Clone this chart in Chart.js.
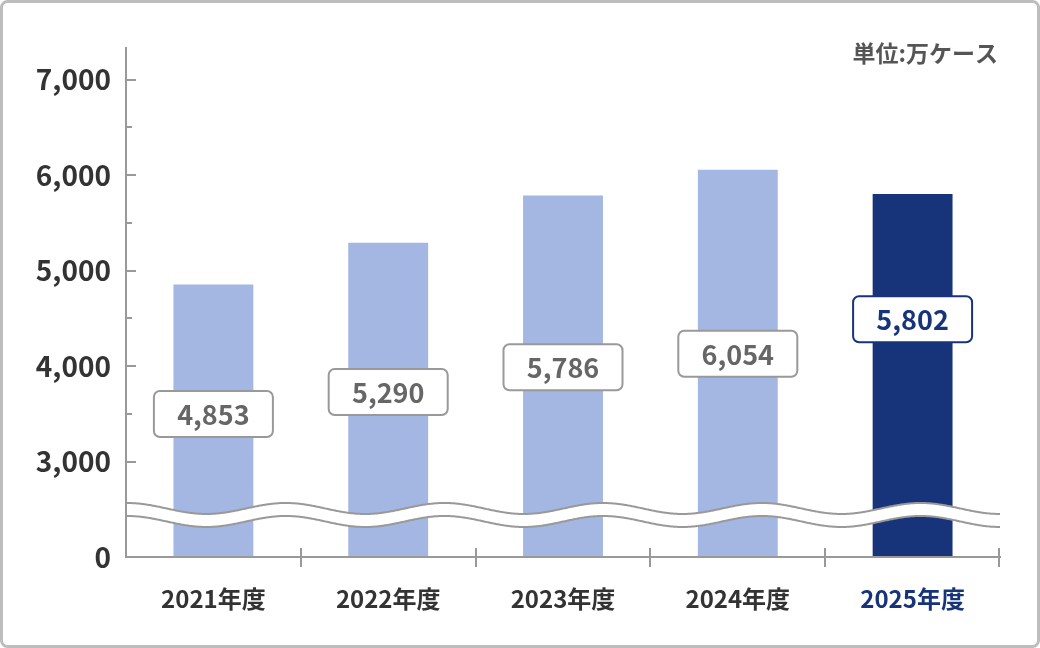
<!DOCTYPE html>
<html lang="ja">
<head>
<meta charset="utf-8">
<title>年度別 販売数量</title>
<script src="https://cdn.jsdelivr.net/npm/chart.js@4.4.1/dist/chart.umd.min.js"></script>
<style>
  html, body { margin: 0; padding: 0; background: #fff; }
  #wrap { width: 1040px; height: 648px; }
</style>
</head>
<body>
<div id="wrap"><canvas id="volumeChart" width="1040" height="648"></canvas></div>
<script>
// data
const categories = ['2021年度', '2022年度', '2023年度', '2024年度', '2025年度'];
const values = [4853, 5290, 5786, 6054, 5802];
const tickValues = [2000, 3000, 4000, 5000, 6000, 7000];
const tickLabels = ['0', '3,000', '4,000', '5,000', '6,000', '7,000'];
const minorTickValues = [3500, 4500, 5500, 6500];
const highlightIndex = 4;
const unitText = '単位:万ケース';

const FONT = '"Noto Sans CJK JP", "Noto Sans", sans-serif';
const LIGHT = '#a3b7e2';
const NAVY = '#17347a';
const AXIS = '#999999';

const breakValue = 2440; // where the wavy axis break sits

const decorPlugin = {
    id: 'decor',
    beforeDraw(chart) {
        const ctx = chart.ctx;
        ctx.save();
        ctx.fillStyle = '#fff';
        ctx.fillRect(0, 0, chart.width, chart.height);
        ctx.strokeStyle = '#bdbdbd';
        ctx.lineWidth = 3;
        ctx.beginPath();
        ctx.roundRect(1.5, 1.5, chart.width - 3, chart.height - 3, 6);
        ctx.stroke();
        ctx.restore();
    },
    afterDatasetsDraw(chart) {
        const ctx = chart.ctx;
        const area = chart.chartArea;
        const y = chart.scales.y;

        // wavy break across the bars
        const c = y.getPixelForValue(breakValue);
        const gap = 6.5, amp = 5.5;
        const x0 = area.left + 1, x1 = area.right;
        const period = (x1 - x0) / 5.5;
        const wave = (px, off) => c + off - amp * Math.cos(2 * Math.PI * (px - x0) / period);
        ctx.save();
        ctx.beginPath();
        for (let px = x0; px <= x1; px++) ctx.lineTo(px, wave(px, -gap));
        for (let px = x1; px >= x0; px--) ctx.lineTo(px, wave(px, gap));
        ctx.closePath();
        ctx.fillStyle = '#fff';
        ctx.fill();
        ctx.strokeStyle = AXIS;
        ctx.lineWidth = 2;
        [-gap, gap].forEach(off => {
            ctx.beginPath();
            for (let px = x0; px <= x1; px++) ctx.lineTo(px, wave(px, off));
            ctx.stroke();
        });

        // value boxes, placed part way up the visible bar
        const meta = chart.getDatasetMeta(0);
        meta.data.forEach((bar, i) => {
            const hi = i === highlightIndex;
            const ratio = hi ? 0.655 : 0.525;
            const cy = area.bottom + (bar.y - area.bottom) * ratio;
            const w = 119, h = 46;
            ctx.beginPath();
            ctx.roundRect(bar.x - w / 2, cy - h / 2, w, h, 6);
            ctx.fillStyle = '#fff';
            ctx.fill();
            ctx.lineWidth = 2;
            ctx.strokeStyle = hi ? NAVY : AXIS;
            ctx.stroke();
            ctx.fillStyle = hi ? NAVY : '#666';
            ctx.font = 'bold 27px ' + FONT;
            ctx.textAlign = 'center';
            ctx.textBaseline = 'middle';
            ctx.fillText(values[i].toLocaleString('en-US'), bar.x, cy + 1);
        });
        ctx.restore();
    },
    afterDraw(chart) {
        const ctx = chart.ctx;
        const area = chart.chartArea;
        const y = chart.scales.y;
        const x = chart.scales.x;
        ctx.save();
        ctx.strokeStyle = AXIS;
        ctx.lineWidth = 2;
        // y ticks point inwards
        tickValues.slice(1).forEach(v => {
            const py = Math.round(y.getPixelForValue(v));
            ctx.beginPath();
            ctx.moveTo(area.left, py);
            ctx.lineTo(area.left + 10, py);
            ctx.stroke();
        });
        minorTickValues.forEach(v => {
            const py = Math.round(y.getPixelForValue(v));
            ctx.beginPath();
            ctx.moveTo(area.left, py);
            ctx.lineTo(area.left + 6, py);
            ctx.stroke();
        });
        // x ticks at category boundaries, crossing the axis
        for (let i = 1; i <= categories.length; i++) {
            const px = i < categories.length
                ? Math.round((x.getPixelForValue(i - 1) + x.getPixelForValue(i)) / 2)
                : area.right - 1;
            ctx.beginPath();
            ctx.moveTo(px, area.bottom - 9);
            ctx.lineTo(px, area.bottom + 10);
            ctx.stroke();
        }
        // unit note
        ctx.fillStyle = '#555';
        ctx.font = 'bold 23px ' + FONT;
        ctx.textAlign = 'right';
        ctx.textBaseline = 'middle';
        ctx.fillText(unitText, 998, 53);
        ctx.restore();
    }
};

const ctx = document.getElementById('volumeChart').getContext('2d');
new Chart(ctx, {
    type: 'bar',
    data: {
        labels: categories,
        datasets: [{
            data: values,
            backgroundColor: values.map((v, i) => i === highlightIndex ? NAVY : LIGHT),
            barPercentage: 0.457,
            categoryPercentage: 1,
        }],
    },
    options: {
        responsive: false,
        animation: false,
        layout: { padding: { top: 48, right: 40, left: 0, bottom: 0 } },
        plugins: {
            legend: { display: false },
            tooltip: { enabled: false },
        },
        scales: {
            x: {
                grid: { display: true, drawOnChartArea: false, drawTicks: false },
                border: { color: AXIS, width: 2, z: 1 },
                ticks: {
                    padding: 27,
                    font: { family: FONT, size: 24, weight: 'bold' },
                    color: c => c.index === highlightIndex ? NAVY : '#333',
                },
                afterFit(scale) { scale.height = 91; },
            },
            y: {
                min: 2000,
                max: 7330,
                grid: { display: true, drawOnChartArea: false, drawTicks: false },
                border: { color: AXIS, width: 2, z: 1 },
                afterBuildTicks(scale) {
                    scale.ticks = tickValues.map(v => ({ value: v }));
                },
                ticks: {
                    padding: 15,
                    font: { family: FONT, size: 28, weight: 'bold' },
                    color: '#333',
                    callback: v => tickLabels[tickValues.indexOf(v)],
                },
                afterFit(scale) { scale.width = 126; },
            },
        },
    },
    plugins: [decorPlugin],
});
</script>
</body>
</html>
